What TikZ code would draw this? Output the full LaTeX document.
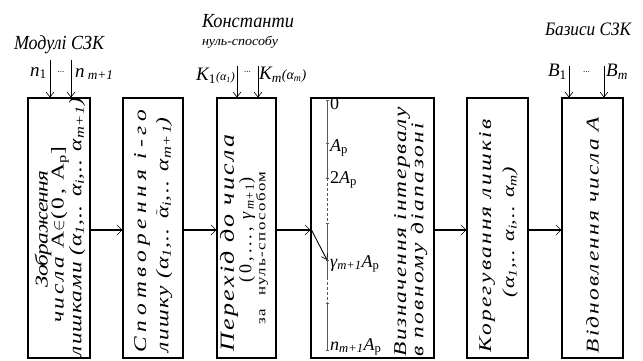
\documentclass[tikz,border=0pt]{standalone}
\usepackage{fontspec}
\usepackage{graphicx}
\setmainfont{Liberation Serif}
\usetikzlibrary{arrows.meta}
\newsavebox\lsboxa
\newsavebox\lsboxb
\newcommand\fsz[1]{\fontsize{#1}{#1}\selectfont}
\newcommand\wide{\addfontfeatures{FakeStretch=1.3}}
\newcommand\fitls[2]{%
  \sbox\lsboxa{#2}%
  \sbox\lsboxb{\addfontfeatures{LetterSpace=100}#2}%
  \edef\lsval{\fpeval{round(((\the\wd\lsboxb-\the\wd\lsboxa) > 0.5) ? (100*(#1-\the\wd\lsboxa)/(\the\wd\lsboxb-\the\wd\lsboxa)) : 0, 2)}}%
  {\addfontfeatures{LetterSpace=\lsval}#2}}
\newcommand\fitsx[2]{%
  \sbox\lsboxa{#2}%
  \edef\sxval{\fpeval{round(#1/\the\wd\lsboxa,4)}}%
  \scalebox{\sxval}[1]{#2}}
\newcommand\sbs[1]{\textsubscript{#1}}
\newcommand\talpha{\ensuremath{\tilde{\hbox{α}}}}
\begin{document}
\begin{tikzpicture}[x=1pt,y=-1pt,
  box/.style={draw, line width=1.1pt, inner sep=0pt, minimum width=#1, minimum height=260pt},
  conn/.style={line width=1.4pt, -{Straight Barb[length=5pt,width=10pt,line width=0.6pt]}},
  inarr/.style={line width=0.8pt, -{Straight Barb[length=5pt,width=8pt,line width=0.6pt]}},
  vtxt/.style={rotate=90, inner sep=0pt, anchor=center},
  lbl/.style={inner sep=0pt},
  axis/.style={line width=1pt, black!65},
  tick/.style={line width=0.8pt, black!65}]
\useasboundingbox (0,0) rectangle (643,361);

% boxes
\node[box=62pt] (b1) at (59,228) {};
\node[box=60pt] (b2) at (153,228) {};
\node[box=59pt] (b3) at (246.5,228) {};
\node[box=123pt] (b4) at (372.5,228) {};
\node[box=61pt] (b5) at (497.5,228) {};
\node[box=61pt] (b6) at (592.5,228) {};

% connectors
\draw[conn] ([yshift=-2pt]b1.east) -- ([yshift=-2pt]b2.west);
\draw[conn] ([yshift=-2pt]b2.east) -- ([yshift=-2pt]b3.west);
\draw[conn] ([yshift=-2pt]b3.east) -- ([yshift=-2pt]b4.west);
\draw[conn] ([yshift=-2pt]b4.east) -- ([yshift=-2pt]b5.west);
\draw[conn] ([yshift=-2pt]b5.east) -- ([yshift=-2pt]b6.west);

% inputs to box 1
\coordinate (i11) at (50,60);
\coordinate (i12) at (71,60);
\draw[inarr] (i11) -- (i11 |- b1.north);
\draw[inarr] (i12) -- (i12 |- b1.north);
\node[lbl] (mod) at (59,45) {\fsz{20}\itshape\fitsx{90}{Модулі СЗК}};
\node[lbl, anchor=east] (n1) at (47,73) {\fsz{19}\itshape n\sbs{\upshape 1}};
\node[lbl] (d1) at (61,72) {\fsz{9}...};
\node[lbl, anchor=west] (nm) at (75,74) {\fsz{19}\itshape n\,\sbs{m+1}};

% inputs to box 3
\coordinate (i31) at (237,66);
\coordinate (i32) at (258,66);
\draw[inarr] (i31) -- (i31 |- b3.north);
\draw[inarr] (i32) -- (i32 |- b3.north);
\node[lbl] (kon) at (248,21) {\fsz{20}\itshape\fitsx{92}{Константи}};
\node[lbl] (nsp) at (240,42) {\fsz{13}\itshape\fitsx{76}{нуль-способу}};
\node[lbl, anchor=east] (k1) at (235,76) {\fsz{19}\itshape K\sbs{\upshape 1}{\fsz{12}(α\sbs{1})}};
\node[lbl] (d3) at (247.5,72) {\fsz{9}...};
\node[lbl, anchor=west] (km) at (259,75) {\fsz{19}\itshape K\sbs{m}{\fsz{14}(α\sbs{m})}};

% inputs to box 6
\coordinate (i61) at (569,66);
\coordinate (i62) at (604,66);
\draw[inarr] (i61) -- (i61 |- b6.north);
\draw[inarr] (i62) -- (i62 |- b6.north);
\node[lbl] (baz) at (588,29) {\fsz{19}\itshape\fitsx{86}{Базиси СЗК}};
\node[lbl, anchor=east] (bb1) at (567,72) {\fsz{19}\itshape B\sbs{\upshape 1}};
\node[lbl] (d6) at (586.5,72) {\fsz{9}...};
\node[lbl, anchor=west] (bbm) at (606,72) {\fsz{19}\itshape B\sbs{m}};

% box 1 text
\node[vtxt] (t11) at (43,229) {\fsz{18}\itshape\wide\fitls{117}{Зображення}};
\node[vtxt] (t12) at (60,235) {\fsz{18}\wide\fitls{176}{\itshape числа \upshape A$\in$(0, A\sbs{p}]}};
\node[vtxt] (t13) at (77,227) {\fsz{18}\itshape\wide\fitls{258}{лишками (α\sbs{1},.. α\sbs{i},.. α\sbs{m+1})}};

% box 2 text
\node[vtxt] (t21) at (142,231) {\fsz{18}\itshape\wide\fitls{243}{Спотворення i-го}};
\node[vtxt] (t22) at (164,235) {\fsz{18}\itshape\wide\fitls{235}{лишку (α\sbs{1},.. \talpha\sbs{i},.. α\sbs{m+1})}};

% box 3 text
\node[vtxt] (t31) at (229,243) {\fsz{20}\itshape\wide\fitls{217}{Перехід до числа}};
\node[vtxt] (t32) at (247,230) {\fsz{18}\fitls{104}{(0,..., \textit{γ}\sbs{\itshape m}\sbs{+1})}};
\node[vtxt] (t33) at (262,248) {\fsz{13}\wide\fitls{153}{за\quad нуль-способом}};

% box 4 axis
\coordinate (a0) at (327,100);
\coordinate (a1) at (327,143);
\coordinate (a2) at (327,178);
\coordinate (a3) at (327,223);
\coordinate (ag) at (327,260);
\coordinate (a5) at (327,277);
\coordinate (a6) at (327,303);
\coordinate (ae) at (327,350);
\draw[axis] (a0) -- (a2);
\draw[axis, dash pattern=on 3pt off 2pt] (a2) -- (a3);
\draw[axis] (a3) -- (a5);
\draw[axis, dash pattern=on 3pt off 2pt] (a5) -- (a6);
\draw[axis] (a6) -- (ae);
\foreach \c in {a0,a1,a2,a3,ag,a6,ae} \draw[tick] ([xshift=-1.5pt]\c) -- ([xshift=1.5pt]\c);
\node[lbl, anchor=west] (l0) at (330,104) {\fsz{18}0};
\node[lbl, anchor=west] (l1) at (330,148) {\fsz{18}\itshape A\sbs{\upshape p}};
\node[lbl, anchor=west] (l2) at (330,180) {\fsz{18}2\itshape A\sbs{\upshape p}};
\node[lbl, anchor=west] (lg) at (330,264) {\fsz{18}\itshape γ\sbs{m+1}A\sbs{\upshape p}};
\node[lbl, anchor=west] (ln) at (330,347) {\fsz{18}\itshape n\sbs{m+1}A\sbs{\upshape p}};
\draw[line width=0.9pt, -{Straight Barb[length=5pt,width=7pt,line width=0.6pt]}] ([yshift=0pt]b4.west) -- (ag);

% box 4 text
\node[vtxt] (t41) at (402,232) {\fsz{18}\itshape\wide\fitls{250}{Визначення інтервалу}};
\node[vtxt] (t42) at (419,240) {\fsz{18}\itshape\wide\fitls{234}{в повному діапазоні}};

% box 5 text
\node[vtxt] (t51) at (487,236) {\fsz{18}\itshape\wide\fitls{233}{Корегування лишків}};
\node[vtxt] (t52) at (510,232) {\fsz{17}\itshape\wide\fitls{130}{(α\sbs{1},.. α\sbs{i},.. α\sbs{m})}};

% box 6 text
\node[vtxt] (t61) at (592.5,235) {\fsz{18}\itshape\wide\fitls{236}{Відновлення числа A}};
\end{tikzpicture}
\end{document}
